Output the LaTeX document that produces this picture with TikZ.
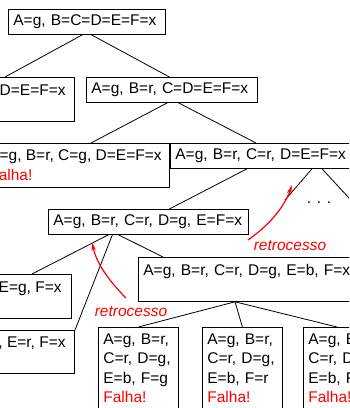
\documentclass[tikz,border=0pt]{standalone}
\usepackage{fontspec}
\setmainfont{Liberation Sans}
\usetikzlibrary{arrows.meta}

\begin{document}
\begin{tikzpicture}%
	[x=1pt, y=-1pt,
	estado/.style={draw, line width=0.8pt, rectangle, align=left, inner xsep=5pt, inner ysep=0pt, font=\fontsize{15.5}{19.5}\selectfont},
	ramo/.style={line width=0.8pt},
	volta/.style={red, line width=1.2pt, -{Stealth[length=9pt,width=4.5pt]}},
	rotulo/.style={red, inner sep=0pt, font=\fontsize{15.5}{19.5}\selectfont\itshape}]
%
\useasboundingbox (0,0) rectangle (349,408);
\clip (0,0) rectangle (349,408);
%%
%% Drawing the states
%%
\node[estado, anchor=north west, text width=147pt, minimum height=25pt] (raiz) at (8,9) {A=g, B=C=D=E=F=x};
\node[estado, anchor=north east, inner xsep=9pt, minimum height=44pt] (gg) at (75,77) {A=g, B=g, C=D=E=F=x\\\mbox{}};
\node[estado, anchor=north west, text width=161pt, minimum height=25pt] (gr) at (86,77) {A=g, B=r, C=D=E=F=x};
\node[estado, anchor=north east, inner xsep=8pt, minimum height=44pt] (grg) at (170,143) {A=g, B=r, C=g, D=E=F=x\\\textcolor{red}{Falha!}};
\node[estado, anchor=north west, text width=200pt, minimum height=25pt] (grr) at (170,143) {A=g, B=r, C=r, D=E=F=x};
\node[estado, anchor=north west, text width=190pt, minimum height=25pt] (grrg) at (48,209) {A=g, B=r, C=r, D=g, E=F=x};
\node[estado, anchor=north east, inner xsep=10pt, minimum height=44pt] (grrgg) at (72,274) {A=g, B=r, C=r, D=g, E=g, F=x\\\mbox{}};
\node[estado, anchor=north east, inner xsep=9pt, minimum height=43pt] (grrgr) at (75,330) {A=g, B=r, C=r, D=g, E=r, F=x\\\mbox{}};
\node[estado, anchor=north west, text width=230pt, minimum height=44pt] (grrgb) at (138,257) {A=g, B=r, C=r, D=g, E=b, F=x\\\mbox{}};
\node[estado, anchor=north west, text width=70pt, minimum height=82pt] (grrgbg) at (98,327) {A=g, B=r,\\C=r, D=g,\\E=b, F=g\\\textcolor{red}{Falha!}};
\node[estado, anchor=north west, text width=70pt, minimum height=82pt] (grrgbr) at (202,327) {A=g, B=r,\\C=r, D=g,\\E=b, F=r\\\textcolor{red}{Falha!}};
\node[estado, anchor=north west, text width=70pt, minimum height=82pt] (grrgbb) at (303,327) {A=g, B=r,\\C=r, D=g,\\E=b, F=b\\\textcolor{red}{Falha!}};
\node[font=\fontsize{15.5}{19.5}\selectfont] (pontos) at (319,203) {. . .};
\coordinate (fim1) at (285,200);
\coordinate (fim2) at (362,212);
%%
%% Drawing the branches
%%
\draw[ramo] ([xshift=-4.5pt]raiz.south) -- ([xshift=-70pt]gg.north east);
\draw[ramo] ([xshift=4.5pt]raiz.south) -- ([xshift=-2.5pt]gr.north);
\draw[ramo] ([xshift=-4.5pt]gr.south) -- ([xshift=-79pt]grg.north east);
\draw[ramo] ([xshift=6.5pt]gr.south) -- ([xshift=86pt]grr.north west);
\draw[ramo] ([xshift=77pt]grr.south west) -- ([xshift=21pt]grrg.north);
\draw[ramo] ([xshift=142pt]grr.south west) -- (fim1);
\draw[ramo] ([xshift=152pt]grr.south west) -- (fim2);
\draw[ramo] ([xshift=-40pt]grrg.south) -- ([xshift=-40pt]grrgg.north east);
\draw[ramo] ([xshift=-36pt]grrg.south) -- (grrgr.north east);
\draw[ramo] ([xshift=-30pt]grrg.south) -- ([xshift=25pt]grrgb.north west);
\draw[ramo] ([xshift=97pt]grrgb.south west) -- (grrgbg.north);
\draw[ramo] ([xshift=97pt]grrgb.south west) -- (grrgbr.north);
\draw[ramo] ([xshift=97pt]grrgb.south west) -- ([xshift=34pt]grrgbb.north west);
%%
%% Drawing the backtracking arrows
%%
\coordinate (volta1a) at (248,240);
\coordinate (volta1b) at (292,185);
\draw[volta] (volta1a) .. controls (268,226) and (284,208) .. (volta1b);
\node[rotulo] (retro1) at (290,246) {retrocesso};
\coordinate (volta2a) at (126,298);
\coordinate (volta2b) at (92,242);
\draw[volta] (volta2a) .. controls (108,280) and (96,262) .. (volta2b);
\node[rotulo] (retro2) at (131,312) {retrocesso};
%%
\end{tikzpicture}
\end{document}
